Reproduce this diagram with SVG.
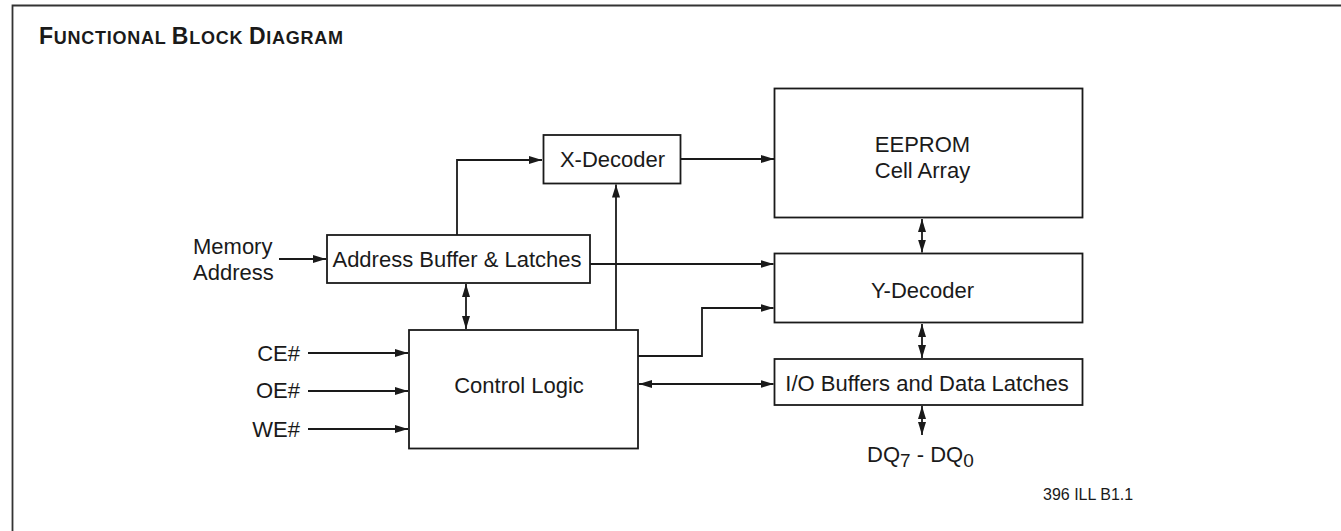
<svg xmlns="http://www.w3.org/2000/svg" width="1341" height="531" viewBox="0 0 1341 531">
<style>
.box{fill:#fff;stroke:#1a1a1a;stroke-width:1.8}
.ln{fill:none;stroke:#1a1a1a;stroke-width:1.8}
.t{font-family:"Liberation Sans",Arial,sans-serif;font-size:22px;fill:#1a1a1a}
.c{text-anchor:middle}
.r{text-anchor:end}
.title{font-family:"Liberation Sans",Arial,sans-serif;font-weight:bold;fill:#1a1a1a}
</style>
<defs>
<marker id="ah" markerUnits="userSpaceOnUse" markerWidth="14" markerHeight="9" refX="13" refY="4" orient="auto-start-reverse">
<path d="M0,0 L13,4 L0,8 z" fill="#1a1a1a"/>
</marker>
</defs>
<rect width="1341" height="531" fill="#fff"/>
<path d="M12.5,531 V5.5 H1341" fill="none" stroke="#333" stroke-width="1.8"/>
<text class="title" x="39" y="44" textLength="304" lengthAdjust="spacing"><tspan font-size="23">F</tspan><tspan font-size="18">UNCTIONAL </tspan><tspan font-size="23">B</tspan><tspan font-size="18">LOCK </tspan><tspan font-size="23">D</tspan><tspan font-size="18">IAGRAM</tspan></text>

<g id="connectors">
<path class="ln" d="M279,259 H326" marker-end="url(#ah)"/>
<path class="ln" d="M457,235 V160 H542" marker-end="url(#ah)"/>
<path class="ln" d="M681,159 H774" marker-end="url(#ah)"/>
<path class="ln" d="M616,330 V184.5" marker-end="url(#ah)"/>
<path class="ln" d="M466,284 V329" marker-start="url(#ah)" marker-end="url(#ah)"/>
<path class="ln" d="M590,264 H773.5" marker-end="url(#ah)"/>
<path class="ln" d="M638,356 H702 V308 H773.5" marker-end="url(#ah)"/>
<path class="ln" d="M639,384 H773.5" marker-start="url(#ah)" marker-end="url(#ah)"/>
<path class="ln" d="M922,219 V252.5" marker-start="url(#ah)" marker-end="url(#ah)"/>
<path class="ln" d="M922,324 V358" marker-start="url(#ah)" marker-end="url(#ah)"/>
<path class="ln" d="M922,406 V435" marker-start="url(#ah)" marker-end="url(#ah)"/>
<path class="ln" d="M308,353 H408" marker-end="url(#ah)"/>
<path class="ln" d="M308,391 H408" marker-end="url(#ah)"/>
<path class="ln" d="M308,429 H408" marker-end="url(#ah)"/>
</g>

<g id="eeprom">
<rect class="box" x="774.5" y="88.5" width="308" height="129"/>
<text class="t c" x="922.5" y="152">EEPROM</text>
<text class="t c" x="922.5" y="178">Cell Array</text>
</g>
<g id="xdecoder">
<rect class="box" x="543.5" y="135" width="137" height="48.5"/>
<text class="t c" x="612.5" y="167">X-Decoder</text>
</g>
<g id="addrbuf">
<rect class="box" x="327" y="235" width="263" height="48"/>
<text class="t c" x="457" y="267">Address Buffer &amp; Latches</text>
</g>
<g id="memaddr">
<text class="t" x="193" y="254">Memory</text>
<text class="t" x="193" y="280">Address</text>
</g>
<g id="ydecoder">
<rect class="box" x="774.5" y="253.5" width="308" height="69"/>
<text class="t c" x="922.5" y="298">Y-Decoder</text>
</g>
<g id="iobuf">
<rect class="box" x="774.5" y="359" width="308" height="46"/>
<text class="t c" x="927" y="391">I/O Buffers and Data Latches</text>
</g>
<g id="control">
<rect class="box" x="409" y="330" width="229" height="118.5"/>
<text class="t c" x="519" y="393">Control Logic</text>
</g>
<g id="inputs">
<text class="t r" x="300" y="361">CE#</text>
<text class="t r" x="300" y="398">OE#</text>
<text class="t r" x="300" y="437">WE#</text>
</g>
<g id="dq">
<text class="t" x="867" y="462">DQ<tspan font-size="19" dy="5">7</tspan><tspan dy="-5"> - DQ</tspan><tspan font-size="19" dy="5">0</tspan></text>
</g>
<text class="t" x="1043" y="500" style="font-size:16px">396 ILL B1.1</text>
</svg>
